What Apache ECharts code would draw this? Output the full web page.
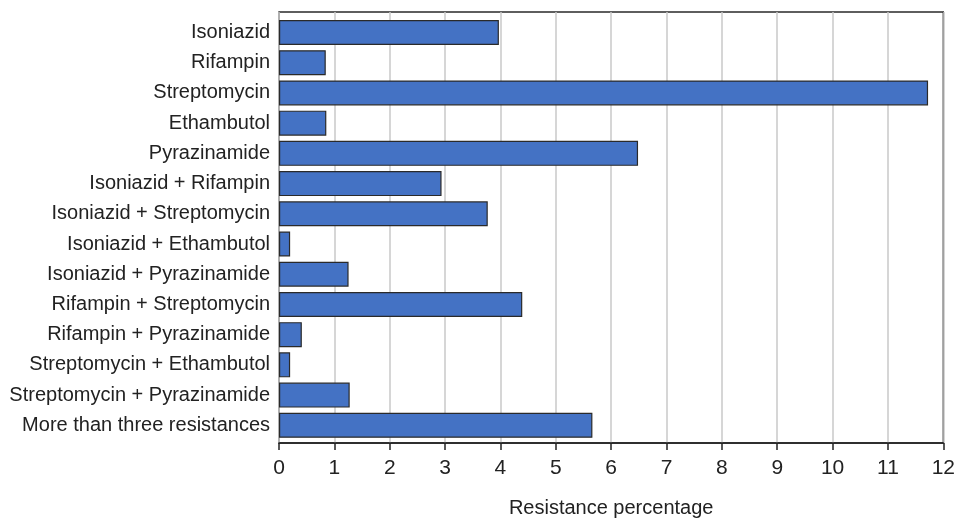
<!DOCTYPE html>
<html>
<head>
<meta charset="utf-8">
<script src="https://cdn.jsdelivr.net/npm/echarts@6/dist/echarts.min.js"></script>
<style>
  html, body { margin: 0; padding: 0; background: #fff; }
  #chart { width: 958px; height: 523px; }
</style>
</head>
<body>
<div id="chart"></div>
<script>
const categories = [
  'Isoniazid',
  'Rifampin',
  'Streptomycin',
  'Ethambutol',
  'Pyrazinamide',
  'Isoniazid + Rifampin',
  'Isoniazid + Streptomycin',
  'Isoniazid + Ethambutol',
  'Isoniazid + Pyrazinamide',
  'Rifampin + Streptomycin',
  'Rifampin + Pyrazinamide',
  'Streptomycin + Ethambutol',
  'Streptomycin + Pyrazinamide',
  'More than three resistances'
]
const resistance = [3.95, 0.84, 11.66, 0.85, 6.45, 2.92, 3.75, 0.2, 1.25, 4.37, 0.41, 0.2, 1.27, 5.63]
const xTicks = { min: 0, max: 12, step: 1 }

const font = "'Liberation Sans Narrow', 'Liberation Sans', Arial, sans-serif"
const chart = echarts.init(document.getElementById('chart'))

chart.setOption({
  animation: false,
  textStyle: { fontFamily: font },
  grid: [
    // frame + gridlines + x axis
    { left: 279, top: 12, width: 668, height: 435, show: true, borderColor: '#2a2a2a', borderWidth: 1.4 },
    // bars
    { left: 279, top: 17.4, width: 668, height: 423 }
  ],
  xAxis: [
    {
      gridIndex: 0,
      type: 'value',
      min: xTicks.min,
      max: xTicks.max,
      interval: xTicks.step,
      name: 'Resistance percentage',
      nameLocation: 'middle',
      nameGap: 55,
      nameTextStyle: { fontSize: 20, color: '#222', fontFamily: font },
      axisLine: { show: true, lineStyle: { color: '#222', width: 1.5 } },
      axisTick: { show: true, length: 7, lineStyle: { color: '#222', width: 1.5 } },
      axisLabel: { fontSize: 21, color: '#222', margin: 15, fontFamily: font },
      splitLine: { show: true, lineStyle: { color: '#c8c8c8', width: 1.5 } }
    },
    {
      gridIndex: 1,
      type: 'value',
      min: xTicks.min,
      max: xTicks.max,
      show: false
    }
  ],
  yAxis: [
    { gridIndex: 0, type: 'value', min: 0, max: 1, show: false },
    {
      gridIndex: 1,
      type: 'category',
      inverse: true,
      data: categories,
      axisLine: { show: false },
      axisTick: { show: false },
      axisLabel: { fontSize: 20, color: '#222', margin: 9, fontFamily: font }
    }
  ],
  series: [
    {
      type: 'bar',
      xAxisIndex: 1,
      yAxisIndex: 1,
      data: resistance,
      barWidth: 25,
      itemStyle: { color: '#4472c4', borderColor: '#2a2a2a', borderWidth: 1.2 }
    }
  ]
})
</script>
</body>
</html>
